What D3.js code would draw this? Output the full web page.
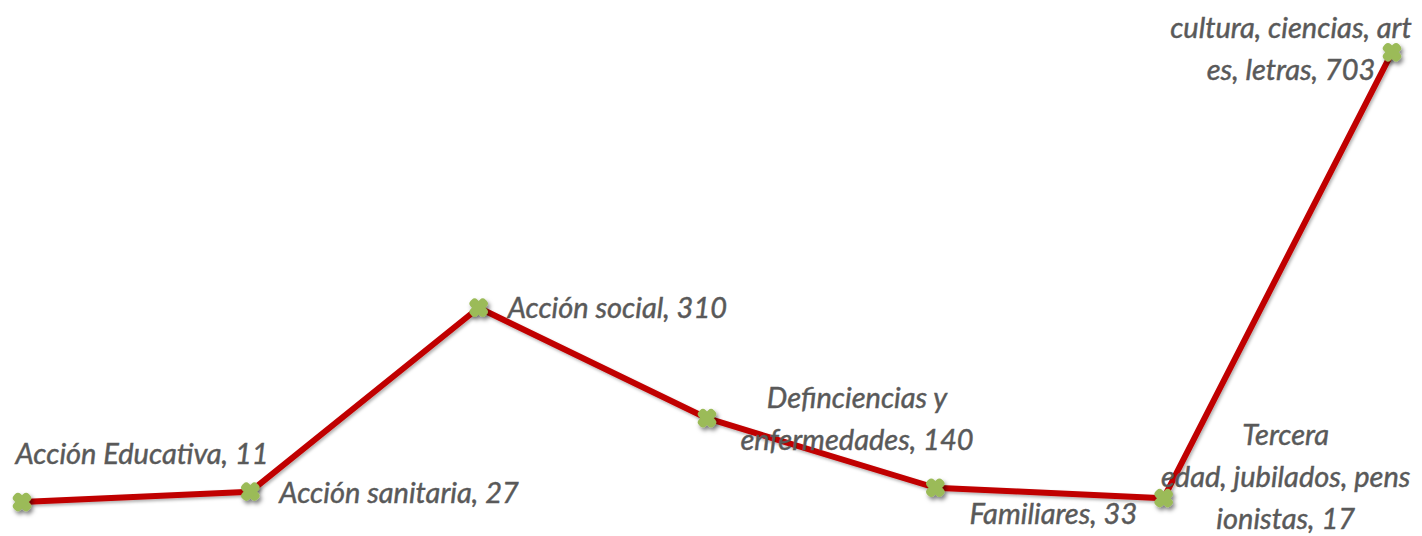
<!DOCTYPE html>
<html>
<head>
<meta charset="utf-8">
<script src="https://cdn.jsdelivr.net/npm/d3@7"></script>
<style>
  html, body { margin: 0; padding: 0; background: #ffffff; }
  svg { display: block; }
  .lbl { font-family: Lato, "Open Sans", sans-serif; font-style: italic; fill: #595959; stroke: #595959; stroke-width: 0.45px; }
</style>
</head>
<body>
<svg id="chart" width="1422" height="536"></svg>
<script>
// Number of associations by field of activity
const categories = [
  "Acción Educativa",
  "Acción sanitaria",
  "Acción social",
  "Definciencias y enfermedades",
  "Familiares",
  "Tercera edad, jubilados, pensionistas",
  "cultura, ciencias, artes, letras"
];
const values = [11, 27, 310, 140, 33, 17, 703];

// Label text as it wraps in each callout
const labelLines = [
  ["Acción Educativa, 11"],
  ["Acción sanitaria, 27"],
  ["Acción social, 310"],
  ["Definciencias y", "enfermedades, 140"],
  ["Familiares, 33"],
  ["Tercera", "edad, jubilados, pens", "ionistas, 17"],
  ["cultura, ciencias, art", "es, letras, 703"]
];

const W = 1422, H = 536;
const svg = d3.select("#chart");

const x = d3.scalePoint().domain(categories).range([22, 1392]);
const y = d3.scaleLinear().domain([0, 703]).range([509.2, 52.3]);

const defs = svg.append("defs");
const sh = defs.append("filter").attr("id", "shadow")
  .attr("x", "-60%").attr("y", "-60%").attr("width", "220%").attr("height", "220%");
sh.append("feDropShadow").attr("dx", 2).attr("dy", 3).attr("stdDeviation", 2.2)
  .attr("flood-color", "#000").attr("flood-opacity", 0.5);
const shl = defs.append("filter").attr("id", "lineShadow")
  .attr("x", "-5%").attr("y", "-5%").attr("width", "110%").attr("height", "110%");
shl.append("feDropShadow").attr("dx", 1.5).attr("dy", 2).attr("stdDeviation", 1.5)
  .attr("flood-color", "#000").attr("flood-opacity", 0.3);

const pts = categories.map((c, i) => ({ c, v: values[i], lines: labelLines[i] }));

svg.append("path")
  .datum(pts)
  .attr("fill", "none")
  .attr("stroke", "#C00000")
  .attr("stroke-width", 6)
  .attr("stroke-linejoin", "round")
  .attr("filter", "url(#lineShadow)")
  .attr("d", d3.line().x(d => x(d.c)).y(d => y(d.v)));

// X-shaped markers: two rounded bars crossed at 45 degrees
const marks = svg.append("g").selectAll("g")
  .data(pts)
  .join("g")
  .attr("transform", d => `translate(${x(d.c)},${y(d.v)})`)
  .attr("filter", "url(#shadow)");
[45, -45].forEach(a => {
  marks.append("rect")
    .attr("x", -10.5).attr("y", -4.75)
    .attr("width", 21).attr("height", 9.5)
    .attr("rx", 4).attr("ry", 4)
    .attr("transform", `rotate(${a})`)
    .attr("fill", "#9BBB59");
});

// Callout placement relative to each point: offset of first baseline and anchor
const place = [
  { dx: 120, dy: -38, anchor: "middle" },
  { dx: 29,  dy: 11,  anchor: "start" },
  { dx: 29,  dy: 10,  anchor: "start" },
  { dx: 150, dy: -10, anchor: "middle" },
  { dx: 118, dy: 36,  anchor: "middle" },
  { dx: 122, dy: -53, anchor: "middle" },
  { dx: -101, dy: -14, anchor: "middle" }
];
const lineGap = 42;

const labels = svg.append("g").selectAll("text")
  .data(pts)
  .join("text")
  .attr("class", "lbl")
  .attr("font-size", 29)
  .attr("text-anchor", (d, i) => place[i].anchor)
  .attr("x", (d, i) => x(d.c) + place[i].dx)
  .attr("y", (d, i) => y(d.v) + place[i].dy);

labels.selectAll("tspan")
  .data((d, i) => d.lines.map(t => ({ t, i })))
  .join("tspan")
  .attr("x", function () { return this.parentNode.getAttribute("x"); })
  .attr("dy", (d, j) => j === 0 ? 0 : lineGap)
  .text(d => d.t);
</script>
</body>
</html>
